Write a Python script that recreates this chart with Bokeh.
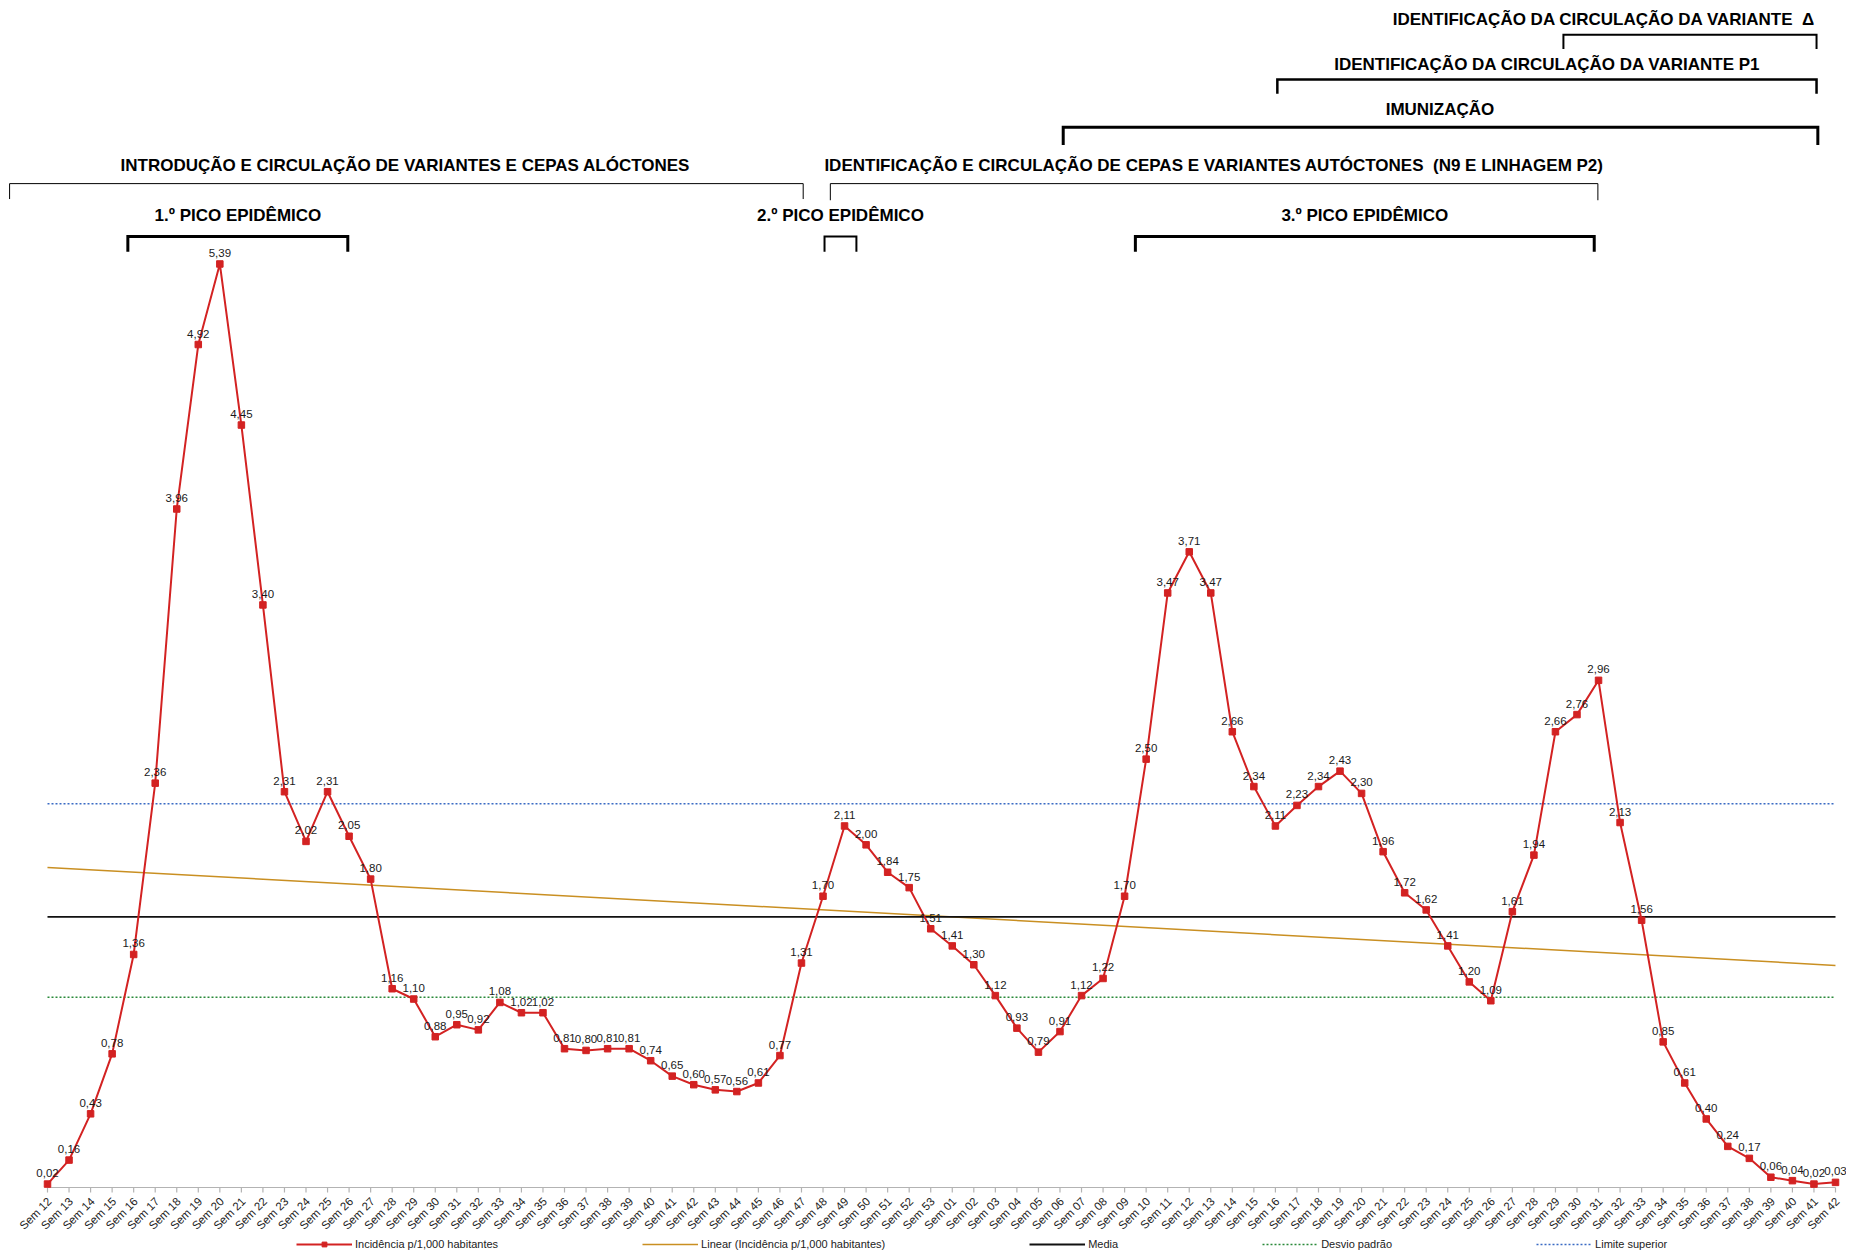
import numpy as np
from bokeh.plotting import figure
from bokeh.models import Range1d, ColumnDataSource, Legend, LegendItem
from bokeh.core.properties import value
from bokeh.embed import file_html
from bokeh.resources import INLINE

# ---------------- data ----------------
semanas_2020 = list(range(12, 54))
semanas_2021 = list(range(1, 43))
categorias = [f"Sem {w:02d}" for w in semanas_2020] + [f"Sem {w:02d}" for w in semanas_2021]

incidencia_2020 = [0.02, 0.16, 0.43, 0.78, 1.36, 2.36, 3.96, 4.92, 5.39, 4.45,
                   3.40, 2.31, 2.02, 2.31, 2.05, 1.80, 1.16, 1.10, 0.88, 0.95,
                   0.92, 1.08, 1.02, 1.02, 0.81, 0.80, 0.81, 0.81, 0.74, 0.65,
                   0.60, 0.57, 0.56, 0.61, 0.77, 1.31, 1.70, 2.11, 2.00, 1.84,
                   1.75, 1.51]
incidencia_2021 = [1.41, 1.30, 1.12, 0.93, 0.79, 0.91, 1.12, 1.22, 1.70, 2.50,
                   3.47, 3.71, 3.47, 2.66, 2.34, 2.11, 2.23, 2.34, 2.43, 2.30,
                   1.96, 1.72, 1.62, 1.41, 1.20, 1.09, 1.61, 1.94, 2.66, 2.76,
                   2.96, 2.13, 1.56, 0.85, 0.61, 0.40, 0.24, 0.17, 0.06, 0.04,
                   0.02, 0.03]
incidencia = incidencia_2020 + incidencia_2021

MEDIA = 1.58
DESVIO_PADRAO = 1.11
LIMITE_SUPERIOR = 2.24

# ---------------- layout ----------------
W, H = 1846, 1250
X0_PX, X1_PX = 47, 1835          # first / last category in figure px
Y0_PX = 1187                     # value 0 in figure px (from top)
PX_Y = 171.34                    # px per unit of incidence
n = len(incidencia)
PX_X = (X1_PX - X0_PX) / (n - 1)

x_start = -X0_PX / PX_X
x_end = (n - 1) + (W - X1_PX) / PX_X
y_end = Y0_PX / PX_Y
y_start = -(H - Y0_PX) / PX_Y

FONT = value("Liberation Sans")

p = figure(width=W, height=H, x_range=Range1d(x_start, x_end), y_range=Range1d(y_start, y_end),
           x_axis_type=None, y_axis_type=None, toolbar_location=None, output_backend="svg",
           min_border=0, outline_line_color=None, background_fill_color="white")

idx = np.arange(n)
vals = np.array(incidencia)

# trend line (linear regression of the series)
coef = np.polyfit(idx, vals, 1)
trend_x = [idx[0], idx[-1]]
trend_y = [coef[1] + coef[0] * idx[0], coef[1] + coef[0] * idx[-1]]

r_lim = p.line([idx[0], idx[-1]], [LIMITE_SUPERIOR] * 2, line_color="#3a6bc4", line_width=1.6, line_dash="2 2")
r_dp = p.line([idx[0], idx[-1]], [DESVIO_PADRAO] * 2, line_color="#2a8a3a", line_width=1.6, line_dash="2 2")
r_trend = p.line(trend_x, trend_y, line_color="#c98f22", line_width=1.5)
r_media = p.line([idx[0], idx[-1]], [MEDIA] * 2, line_color="#111111", line_width=1.8)

# x axis
p.line([idx[0], idx[-1]], [0, 0], line_color="#b3b3b3", line_width=1.2)
p.segment(x0=idx, y0=np.zeros(n), x1=idx, y1=np.full(n, -5 / PX_Y), line_color="#b3b3b3", line_width=1.2)
p.text(x=idx + 2 / PX_X, y=np.full(n, -12 / PX_Y), text=categorias, angle=np.pi / 4,
       text_align="right", text_baseline="middle", text_font=FONT, text_font_size="11.5px",
       text_color="#222222")

# main series
src = ColumnDataSource(dict(x=idx, y=vals, ylab=vals + 11 / PX_Y,
                            lab=[f"{v:.2f}".replace(".", ",") for v in incidencia]))
r_line = p.line("x", "y", source=src, line_color="#d32222", line_width=2)
r_mk = p.scatter("x", "y", source=src, marker="square", size=6.5, fill_color="#d32222",
                 line_color="#d32222")
p.text(x="x", y="ylab", text="lab", source=src, text_align="center",
       text_baseline="middle", text_font=FONT, text_font_size="11.5px", text_color="#1a1a1a")

# ---------------- annotations ----------------
ann_textos = ["IDENTIFICAÇÃO DA CIRCULAÇÃO DA VARIANTE\u00a0\u00a0Δ",
              "IDENTIFICAÇÃO DA CIRCULAÇÃO DA VARIANTE P1",
              "IMUNIZAÇÃO",
              "INTRODUÇÃO E CIRCULAÇÃO DE VARIANTES E CEPAS ALÓCTONES",
              "IDENTIFICAÇÃO E CIRCULAÇÃO DE CEPAS E VARIANTES AUTÓCTONES\u00a0\u00a0(N9 E LINHAGEM P2)",
              "1.º PICO EPIDÊMICO",
              "2.º PICO EPIDÊMICO",
              "3.º PICO EPIDÊMICO"]
ann_tx = [82.07, 69.63, 64.64, 16.61, 54.15, 8.84, 36.81, 61.15]
ann_align = ["right", "center", "center", "center", "center", "center", "center", "center"]
ann_ty = [6.818, 6.556, 6.293, 5.962, 5.962, 5.672, 5.672, 5.672]
br_x0 = [70.37, 57.09, 47.15, -1.76, 36.34, 3.73, 36.07, 50.50]
br_x1 = [82.12, 82.12, 82.18, 35.08, 71.97, 13.94, 37.55, 71.80]
br_top = [6.728, 6.466, 6.188, 5.859, 5.859, 5.551, 5.551, 5.551]
br_bot = [6.645, 6.383, 6.085, 5.769, 5.762, 5.462, 5.462, 5.462]
br_lw = [2, 2.5, 3, 1, 1, 3, 2, 3]

for i in range(len(ann_textos)):
    p.text(x=[ann_tx[i]], y=[ann_ty[i]], text=[ann_textos[i]], text_align=ann_align[i],
           text_baseline="middle", text_font=FONT, text_font_style="bold",
           text_font_size="17px", text_color="#000000")
    p.line([br_x0[i], br_x0[i], br_x1[i], br_x1[i]],
           [br_bot[i], br_top[i], br_top[i], br_bot[i]],
           line_color="#000000", line_width=br_lw[i], line_join="miter")

# ---------------- legend ----------------
legend = Legend(items=[
    LegendItem(label="Incidência p/1,000 habitantes", renderers=[r_line, r_mk]),
    LegendItem(label="Linear (Incidência p/1,000 habitantes)", renderers=[r_trend]),
    LegendItem(label="Media", renderers=[r_media]),
    LegendItem(label="Desvio padrão", renderers=[r_dp]),
    LegendItem(label="Limite superior", renderers=[r_lim]),
], orientation="horizontal", location=(296, 0), spacing=144, padding=0, margin=0,
    glyph_width=56, glyph_height=12, label_height=12, label_standoff=3,
    label_text_font="Liberation Sans", label_text_font_size="11px",
    label_text_color="#222222", border_line_color=None, background_fill_alpha=0)
p.add_layout(legend)

open("out.html", "w").write(file_html(p, INLINE))
